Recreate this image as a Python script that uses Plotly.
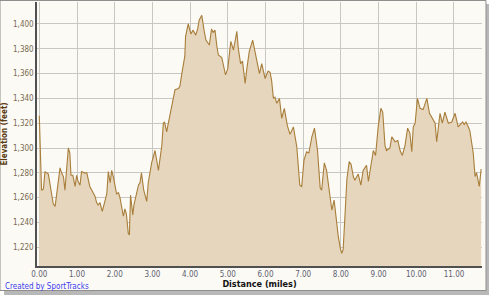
import plotly.graph_objects as go

distance_miles = [
    0.00, 0.03, 0.06, 0.11, 0.15, 0.24, 0.30, 0.37, 0.42, 0.48, 0.55, 0.59, 0.64, 0.68, 0.72, 0.77,
    0.81, 0.84, 0.89, 0.95, 0.99, 1.03, 1.08, 1.12, 1.19, 1.26, 1.34, 1.41, 1.48, 1.52, 1.56, 1.61,
    1.67, 1.73, 1.79, 1.83, 1.88, 1.92, 1.97, 2.05, 2.10, 2.14, 2.19, 2.23, 2.27, 2.31, 2.36, 2.39,
    2.42, 2.48, 2.51, 2.58, 2.63, 2.67, 2.71, 2.77, 2.85, 2.89, 2.94, 2.98, 3.07, 3.16, 3.25, 3.29,
    3.32, 3.38, 3.41, 3.47, 3.51, 3.55, 3.60, 3.69, 3.73, 3.78, 3.82, 3.86, 3.88, 3.95, 4.02, 4.08,
    4.15, 4.20, 4.24, 4.31, 4.37, 4.42, 4.51, 4.57, 4.61, 4.66, 4.71, 4.75, 4.84, 4.90, 4.94, 5.00,
    5.08, 5.15, 5.24, 5.28, 5.34, 5.39, 5.46, 5.51, 5.57, 5.66, 5.77, 5.84, 5.90, 5.99, 6.07, 6.12,
    6.16, 6.21, 6.25, 6.30, 6.37, 6.43, 6.50, 6.58, 6.65, 6.74, 6.83, 6.87, 6.91, 6.96, 7.02, 7.09,
    7.15, 7.23, 7.30, 7.38, 7.45, 7.49, 7.56, 7.62, 7.71, 7.76, 7.82, 7.89, 7.93, 7.98, 8.02, 8.06,
    8.11, 8.16, 8.22, 8.27, 8.33, 8.37, 8.46, 8.53, 8.59, 8.68, 8.73, 8.79, 8.82, 8.86, 8.92, 8.99,
    9.06, 9.11, 9.17, 9.21, 9.30, 9.35, 9.44, 9.51, 9.57, 9.63, 9.70, 9.77, 9.83, 9.88, 9.92, 9.97,
    10.03, 10.10, 10.18, 10.28, 10.35, 10.43, 10.50, 10.54, 10.63, 10.69, 10.76, 10.85, 10.94, 11.03,
    11.11, 11.17, 11.23, 11.27, 11.32, 11.38, 11.42, 11.51, 11.56, 11.60, 11.67, 11.72,
]

elevation_feet = [
    1326, 1300, 1266, 1267, 1281, 1279, 1268, 1255, 1253, 1268, 1284, 1280, 1277, 1266, 1285, 1300,
    1296, 1278, 1278, 1269, 1278, 1273, 1270, 1281, 1280, 1280, 1269, 1265, 1261, 1256, 1254, 1256,
    1249, 1256, 1263, 1281, 1272, 1282, 1276, 1263, 1264, 1260, 1250, 1245, 1251, 1247, 1231, 1230,
    1262, 1246, 1254, 1263, 1270, 1272, 1280, 1266, 1257, 1272, 1280, 1288, 1298, 1282, 1302, 1320,
    1321, 1313, 1318, 1328, 1333, 1339, 1347, 1348, 1350, 1360, 1368, 1374, 1390, 1400, 1392, 1395,
    1391, 1396, 1403, 1407, 1395, 1387, 1383, 1396, 1393, 1395, 1382, 1375, 1373, 1364, 1359, 1364,
    1386, 1379, 1394, 1380, 1368, 1370, 1352, 1365, 1378, 1387, 1372, 1360, 1368, 1356, 1362, 1361,
    1355, 1340, 1341, 1336, 1340, 1324, 1332, 1318, 1311, 1317, 1301, 1285, 1270, 1269, 1290, 1297,
    1296, 1309, 1316, 1298, 1268, 1266, 1288, 1282, 1258, 1250, 1258, 1236, 1229, 1220, 1215, 1218,
    1252, 1275, 1289, 1287, 1277, 1274, 1279, 1270, 1282, 1286, 1273, 1286, 1290, 1298, 1294, 1317,
    1332, 1329, 1302, 1298, 1300, 1309, 1305, 1306, 1298, 1294, 1302, 1316, 1312, 1297, 1317, 1320,
    1340, 1332, 1331, 1340, 1328, 1323, 1320, 1305, 1328, 1320, 1329, 1320, 1321, 1328,
    1317, 1319, 1321, 1319, 1321, 1317, 1314, 1296, 1277, 1280, 1269, 1283,
]

x_tick_vals = [0, 1, 2, 3, 4, 5, 6, 7, 8, 9, 10, 11]
x_tick_text = ["0.00", "1.00", "2.00", "3.00", "4.00", "5.00", "6.00", "7.00", "8.00", "9.00", "10.00", "11.00"]
y_tick_vals = [1220, 1240, 1260, 1280, 1300, 1320, 1340, 1360, 1380, 1400]
y_tick_text = ["1,220", "1,240", "1,260", "1,280", "1,300", "1,320", "1,340", "1,360", "1,380", "1,400"]

BG = "#FBFAF5"
GRID = "#C9C7C2"

fig = go.Figure()
fig.add_trace(go.Scatter(
    x=distance_miles, y=elevation_feet, mode="lines",
    fill="tozeroy", fillcolor="#E6D6BD",
    line=dict(color="#A87E3A", width=1.1),
    hoverinfo="skip",
))

# plot area in px: left 37, right 482, top 2, bottom 266
W, H = 489, 295
L, R, T, B = 37, 482, 2, 266
pw, ph = R - L, B - T

def px_x(px):
    return (px - L) / pw

def px_y(py):
    return (B - py) / ph

shapes = [
    # shadow
    dict(type="rect", xref="paper", yref="paper", layer="below",
         x0=px_x(4), x1=px_x(489), y0=px_y(295), y1=px_y(4),
         fillcolor="#B8B8B8", line=dict(width=0)),
    # frame
    dict(type="rect", xref="paper", yref="paper", layer="below",
         x0=px_x(0), x1=px_x(486), y0=px_y(290.5), y1=px_y(0.5),
         fillcolor=BG, line=dict(color="#8E8E8E", width=1)),
]

fig.update_layout(
    width=W, height=H,
    margin=dict(l=L, r=W - R, t=T, b=H - B, pad=0),
    paper_bgcolor="white", plot_bgcolor=BG,
    showlegend=False,
    font=dict(family="DejaVu Sans Condensed, DejaVu Sans, sans-serif", size=8, color="#6E6250"),
    shapes=shapes,
    xaxis=dict(
        range=[-0.061, 11.743], tickvals=x_tick_vals, ticktext=x_tick_text,
        showgrid=True, gridcolor=GRID, gridwidth=1.3,
        showline=True, linecolor="#505050", linewidth=1.5,
        ticks="", zeroline=False,
        tickfont=dict(size=8, color="#5F5F70"),
        title=dict(text="<b>Distance (miles)</b>", standoff=2,
                   font=dict(size=9, color="#111111")),
    ),
    yaxis=dict(
        range=[1204.9, 1417.7], tickvals=y_tick_vals, ticktext=y_tick_text,
        showgrid=True, gridcolor=GRID, gridwidth=1.3,
        showline=True, linecolor="#505050", linewidth=1.5,
        ticks="", zeroline=False,
        tickfont=dict(size=8, color="#7A6A50"),
        title=dict(text="<b>Elevation (feet)</b>", standoff=4,
                   font=dict(size=8, color="#5A3A10")),
    ),
    annotations=[
        dict(text="Created by SportTracks", xref="paper", yref="paper",
             x=px_x(3), y=px_y(286), xanchor="left", yanchor="middle",
             showarrow=False, font=dict(size=8, color="#3C3CF0")),
    ],
)

fig.write_html("out.html")
